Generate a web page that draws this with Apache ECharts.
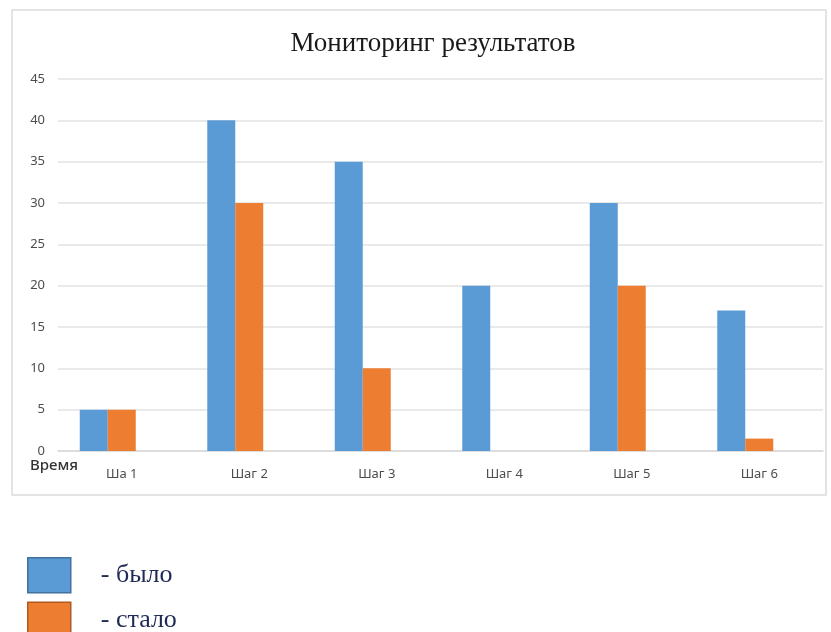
<!DOCTYPE html>
<html>
<head>
<meta charset="utf-8">
<script src="https://cdn.jsdelivr.net/npm/echarts@6/dist/echarts.min.js"></script>
<style>
  html, body { margin: 0; padding: 0; background: #fff; }
  #c1 { width: 831px; height: 632px; }
</style>
</head>
<body>
<div id="c1"></div>
<script>
var steps = ["Ша 1", "Шаг 2", "Шаг 3", "Шаг 4", "Шаг 5", "Шаг 6"];
var bylo = [5, 40, 35, 20, 30, 17];
var stalo = [5, 30, 10, 0, 20, 1.5];
var empty = [null, null, null, null, null, null];

var myChart = echarts.init(document.getElementById("c1"));
var option = {
  animation: false,
  backgroundColor: "#fff",
  title: {
    text: "Мониторинг результатов",
    left: 428,
    textAlign: "center",
    top: 25,
    textStyle: {
      fontFamily: "Liberation Serif",
      fontWeight: "normal",
      fontSize: 27,
      color: "#1a1a1a",
    },
  },
  graphic: [
    {
      type: "rect",
      shape: { x: 12, y: 10, width: 814, height: 485 },
      style: { fill: "none", stroke: "#dcdcdc", lineWidth: 1.5 },
      silent: true,
    },
  ],
  legend: {
    data: ["было", "стало"],
    orient: "vertical",
    left: 27,
    top: 557,
    height: 120,
    padding: 0,
    itemWidth: 43,
    itemHeight: 35,
    itemGap: 8,
    icon: "rect",
    formatter: "- {name}",
    itemStyle: { borderWidth: 1.5 },
    textStyle: {
      fontFamily: "Liberation Serif",
      fontSize: 26,
      color: "#1f2a55",
      padding: [0, 0, 0, 25],
    },
  },
  grid: { left: 58, right: 8, top: 79, bottom: 181 },
  xAxis: {
    type: "category",
    data: steps,
    name: "Время",
    nameLocation: "start",
    nameGap: -20,
    nameTextStyle: {
      fontFamily: "Noto Sans",
      fontSize: 15,
      fontWeight: 500,
      color: "#333",
      align: "right",
      verticalAlign: "top",
      padding: [7, 0, 0, 0],
    },
    axisLine: { lineStyle: { color: "#d9d9d9", width: 1.5 } },
    axisTick: { show: false },
    axisLabel: {
      fontFamily: "Noto Sans",
      fontSize: 13,
      color: "#4d4d4d",
      margin: 17,
    },
  },
  yAxis: {
    type: "value",
    min: 0,
    max: 45,
    interval: 5,
    axisLine: { show: false },
    axisTick: { show: false },
    axisLabel: {
      fontFamily: "Noto Sans",
      fontSize: 13,
      color: "#4d4d4d",
      margin: 13,
    },
    splitLine: { lineStyle: { color: "#e3e3e3", width: 1.5 } },
  },
  series: [
    {
      name: "было",
      type: "bar",
      data: bylo,
      barWidth: 28,
      barGap: "0%",
      itemStyle: { color: "#5b9bd5", borderColor: "#41719c", borderWidth: 0 },
    },
    {
      name: "стало",
      type: "bar",
      data: stalo,
      barWidth: 28,
      barGap: "0%",
      itemStyle: { color: "#ed7d31", borderColor: "#ae5a21", borderWidth: 0 },
    },
    {
      name: "ряд 3",
      type: "bar",
      data: empty,
      barWidth: 28,
      barGap: "0%",
      itemStyle: { color: "#a5a5a5" },
    },
  ],
};
myChart.setOption(option);
window.addEventListener("resize", function () {
  myChart.resize();
});
</script>
</body>
</html>
